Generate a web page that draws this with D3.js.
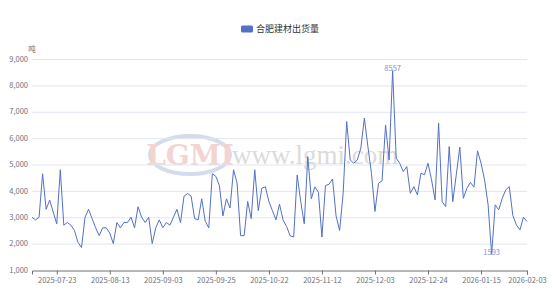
<!DOCTYPE html>
<html>
<head>
<meta charset="utf-8">
<script src="https://cdn.jsdelivr.net/npm/d3@7"></script>
<style>
  html, body { margin: 0; padding: 0; background: #fff; }
  #chart { width: 554px; height: 290px; }
  text { font-family: "Microsoft YaHei", "Noto Sans CJK SC", Arial, "Liberation Sans", sans-serif; }
</style>
</head>
<body>
<div id="chart"></div>
<script>
// trading days shown on the category axis
const dates = [
  '2025-07-14','2025-07-15','2025-07-16','2025-07-17','2025-07-18','2025-07-21','2025-07-22','2025-07-23','2025-07-24','2025-07-25',
  '2025-07-28','2025-07-29','2025-07-30','2025-07-31','2025-08-01','2025-08-04','2025-08-05','2025-08-06','2025-08-07','2025-08-08',
  '2025-08-11','2025-08-12','2025-08-13','2025-08-14','2025-08-15','2025-08-18','2025-08-19','2025-08-20','2025-08-21','2025-08-22',
  '2025-08-25','2025-08-26','2025-08-27','2025-08-28','2025-08-29','2025-09-01','2025-09-02','2025-09-03','2025-09-04','2025-09-05',
  '2025-09-08','2025-09-09','2025-09-10','2025-09-11','2025-09-12','2025-09-15','2025-09-16','2025-09-17','2025-09-18','2025-09-22',
  '2025-09-23','2025-09-24','2025-09-25','2025-09-26','2025-09-28','2025-09-29','2025-09-30','2025-10-09','2025-10-10','2025-10-11',
  '2025-10-13','2025-10-14','2025-10-15','2025-10-16','2025-10-17','2025-10-20','2025-10-21','2025-10-22','2025-10-23','2025-10-24',
  '2025-10-27','2025-10-28','2025-10-29','2025-10-30','2025-10-31','2025-11-03','2025-11-04','2025-11-05','2025-11-06','2025-11-07',
  '2025-11-10','2025-11-11','2025-11-12','2025-11-13','2025-11-14','2025-11-17','2025-11-18','2025-11-19','2025-11-20','2025-11-21',
  '2025-11-24','2025-11-25','2025-11-26','2025-11-27','2025-11-28','2025-12-01','2025-12-02','2025-12-03','2025-12-04','2025-12-05',
  '2025-12-08','2025-12-09','2025-12-10','2025-12-11','2025-12-12','2025-12-15','2025-12-16','2025-12-17','2025-12-18','2025-12-19',
  '2025-12-22','2025-12-23','2025-12-24','2025-12-25','2025-12-26','2025-12-29','2025-12-30','2025-12-31','2026-01-04','2026-01-05',
  '2026-01-06','2026-01-07','2026-01-08','2026-01-09','2026-01-12','2026-01-13','2026-01-14','2026-01-15','2026-01-16','2026-01-19',
  '2026-01-20','2026-01-21','2026-01-22','2026-01-23','2026-01-26','2026-01-27','2026-01-28','2026-01-29','2026-01-30','2026-02-02',
  '2026-02-03'
];

// 合肥建材出货量 (吨)
const shipments = [
  3000,2900,3000,4650,3300,3650,3200,2750,4800,2700,
  2800,2700,2500,2050,1850,3000,3300,2950,2600,2300,
  2600,2600,2400,2000,2800,2600,2800,2800,3000,2600,
  3400,3000,2800,3000,2000,2600,2900,2600,2800,2700,
  3000,3300,2800,3800,3900,3800,2950,2900,3700,2850,
  2600,4650,4550,4200,3050,3700,3350,4800,4300,2300,
  2300,3600,2950,4800,3250,4100,4150,3600,3250,2900,
  3500,2900,2650,2300,2250,4600,3600,2750,5300,3700,
  4150,3950,2250,4200,4250,4450,3050,2500,3900,6630,
  5170,5050,5170,5620,6760,5680,4670,3220,4290,4380,
  6500,5170,8557,5240,5050,4730,4920,3910,4160,3850,
  4670,4610,5050,4420,3660,6570,3590,3400,5680,3590,
  4610,5660,3720,4100,4320,4140,5520,5050,4420,3470,
  1593,3470,3280,3720,4040,4160,3060,2710,2520,3000,
  2840
];

const xTicks = ['2025-07-23','2025-08-13','2025-09-03','2025-09-25','2025-10-22',
  '2025-11-12','2025-12-03','2025-12-24','2026-01-15','2026-02-03'];
const yTicks = [1000, 2000, 3000, 4000, 5000, 6000, 7000, 8000, 9000];

const seriesName = '合肥建材出货量';
const unit = '吨';

const width = 554, height = 290;
const margin = { top: 59, right: 27, bottom: 20, left: 32 };
const lineColor = '#5470c6';
const axisTextColor = '#6E7079';

const data = dates.map((d, i) => ({ date: d, value: shipments[i] }));

const svg = d3.select('#chart')
  .append('svg')
  .attr('width', width)
  .attr('height', height);

const x = d3.scalePoint()
  .domain(dates)
  .range([margin.left, width - margin.right]);

const y = d3.scaleLinear()
  .domain([1000, 9000])
  .range([height - margin.bottom, margin.top]);

// watermark
const wm = svg.append('g').attr('opacity', 0.45);
wm.append('ellipse')
  .attr('cx', 190).attr('cy', 155).attr('rx', 40).attr('ry', 19)
  .attr('fill', 'none').attr('stroke', '#9fb3d8').attr('stroke-width', 4);
wm.append('text')
  .attr('x', 190).attr('y', 165)
  .attr('text-anchor', 'middle')
  .style('font-family', '"DejaVu Serif", serif')
  .style('font-size', '28px')
  .style('font-weight', 'bold')
  .attr('fill', '#e8a0a0')
  .text('LGMI');
wm.append('text')
  .attr('x', 232).attr('y', 164)
  .style('font-family', '"Liberation Serif", "DejaVu Serif", serif')
  .style('font-size', '27px')
  .attr('fill', '#b0b0b0')
  .text('www.lgmi.com');

// grid
svg.append('g')
  .selectAll('line')
  .data(yTicks.filter(t => t !== 1000))
  .join('line')
  .attr('x1', margin.left)
  .attr('x2', width - margin.right)
  .attr('y1', d => y(d) + 0.5)
  .attr('y2', d => y(d) + 0.5)
  .attr('stroke', '#E0E6F1')
  .attr('stroke-width', 1);

// y axis labels
svg.append('g')
  .selectAll('text')
  .data(yTicks)
  .join('text')
  .attr('x', margin.left - 4)
  .attr('y', d => y(d))
  .attr('dy', '0.35em')
  .attr('text-anchor', 'end')
  .style('font-size', '7.5px')
  .attr('fill', axisTextColor)
  .text(d => d3.format(',')(d));

svg.append('text')
  .attr('x', margin.left)
  .attr('y', 49)
  .attr('dy', '0.35em')
  .attr('text-anchor', 'middle')
  .style('font-size', '7.5px')
  .attr('fill', axisTextColor)
  .text(unit);

// x axis
const xAxis = d3.axisBottom(x)
  .tickValues(xTicks)
  .tickSize(4)
  .tickPadding(3);

const gx = svg.append('g')
  .attr('transform', `translate(0,${height - margin.bottom + 0.5})`)
  .call(xAxis);
gx.select('.domain').attr('stroke', axisTextColor);
gx.selectAll('.tick line').attr('stroke', axisTextColor);
gx.selectAll('.tick text')
  .attr('fill', axisTextColor)
  .style('font-size', '7.5px');

// line
const line = d3.line()
  .x(d => x(d.date))
  .y(d => y(d.value));

svg.append('path')
  .datum(data)
  .attr('fill', 'none')
  .attr('stroke', lineColor)
  .attr('stroke-width', 1)
  .attr('stroke-linejoin', 'round')
  .attr('d', line);

// max / min labels
const maxPt = data.reduce((a, b) => (b.value > a.value ? b : a));
const minPt = data.reduce((a, b) => (b.value < a.value ? b : a));
svg.append('g')
  .selectAll('text')
  .data([maxPt, minPt])
  .join('text')
  .attr('x', d => x(d.date))
  .attr('y', d => y(d.value) - 2)
  .attr('dy', '0.35em')
  .attr('text-anchor', 'middle')
  .style('font-size', '7.5px')
  .attr('fill', '#7f93d3')
  .text(d => d.value);

// legend
const legend = svg.append('g').attr('transform', 'translate(241,29)');
legend.append('rect')
  .attr('x', 0).attr('y', -3.5)
  .attr('width', 12).attr('height', 7)
  .attr('rx', 1.5)
  .attr('fill', lineColor);
legend.append('text')
  .attr('x', 15).attr('y', 0)
  .attr('dy', '0.35em')
  .style('font-size', '9px')
  .attr('fill', '#333')
  .text(seriesName);
</script>
</body>
</html>
